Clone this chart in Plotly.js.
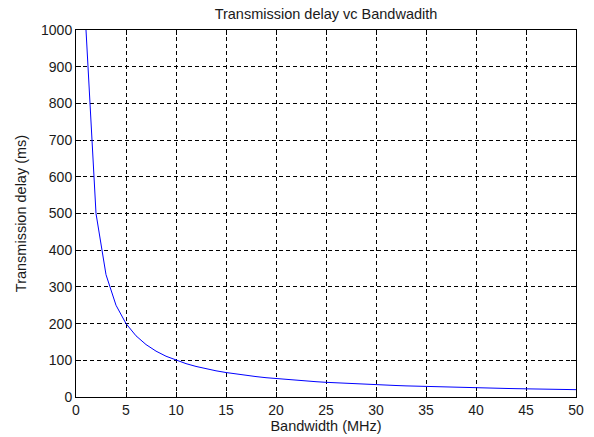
<!DOCTYPE html>
<html>
<head>
<meta charset="utf-8">
<script src="https://cdn.plot.ly/plotly-3.0.1.min.js"></script>
<style>html,body{margin:0;padding:0;background:#fff;}#chart{width:594px;height:437px;}</style>
</head>
<body>
<div id="chart"></div>
<script>
const bandwidth = [1,2,3,4,5,6,7,8,9,10,11,12,13,14,15,16,17,18,19,20,21,22,23,24,25,26,27,28,29,30,31,32,33,34,35,36,37,38,39,40,41,42,43,44,45,46,47,48,49,50];
const delay = [1000,500,333.3,250,200,166.7,142.9,125,111.1,100,90.9,83.3,76.9,71.4,66.7,62.5,58.8,55.6,52.6,50,47.6,45.5,43.5,41.7,40,38.5,37,35.7,34.5,33.3,32.3,31.3,30.3,29.4,28.6,27.8,27,26.3,25.6,25,24.4,23.8,23.3,22.7,22.2,21.7,21.3,20.8,20.4,20];
const xTicks = [0,5,10,15,20,25,30,35,40,45,50];
const yTicks = [0,100,200,300,400,500,600,700,800,900,1000];

const tickFont = {family: 'Liberation Sans, Arial, sans-serif', size: 14, color: '#1a1a1a'};
const titleFont = {family: 'Liberation Sans, Arial, sans-serif', size: 14.5, color: '#1a1a1a'};
const axisCommon = {
  showline: true, mirror: 'ticks', linecolor: '#000', linewidth: 1,
  ticks: 'inside', ticklen: 5, tickcolor: '#000', tickwidth: 1,
  showgrid: true, gridcolor: '#000', gridwidth: 1, griddash: '4px,3px',
  zeroline: false, tickfont: tickFont
};
Plotly.newPlot('chart', [{
  x: bandwidth, y: delay, type: 'scatter', mode: 'lines',
  line: {color: '#0000ff', width: 1}
}], {
  width: 594, height: 437,
  margin: {l: 76, r: 18, t: 30, b: 40},
  paper_bgcolor: '#fff', plot_bgcolor: '#fff',
  showlegend: false,
  title: {text: 'Transmission delay vc Bandwadith', font: titleFont, xref: 'paper', x: 0.5, xanchor: 'center', yref: 'container', y: 1 - 14/437, yanchor: 'middle'},
  xaxis: Object.assign({}, axisCommon, {range: [0, 50], tickvals: xTicks, ticktext: xTicks.map(String),
    title: {text: 'Bandwidth (MHz)', font: titleFont, standoff: 2}}),
  yaxis: Object.assign({}, axisCommon, {range: [0, 1000], tickvals: yTicks, ticktext: yTicks.map(String),
    title: {text: 'Transmission delay (ms)', font: titleFont, standoff: 10}})
}, {displayModeBar: false, staticPlot: true});
</script>
</body>
</html>
